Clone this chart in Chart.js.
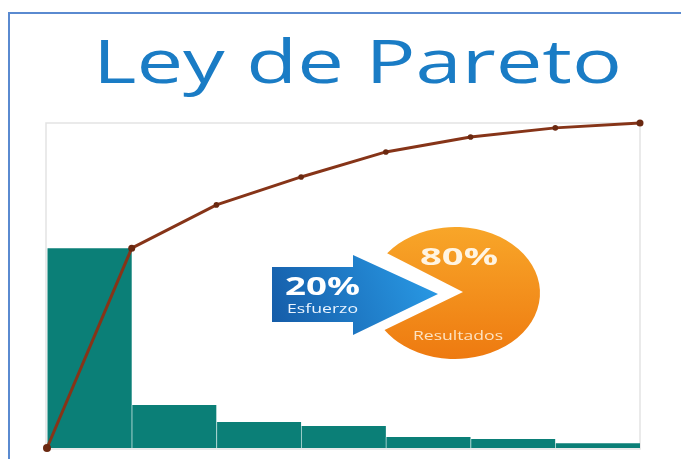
<!DOCTYPE html>
<html>
<head>
<meta charset="utf-8">
<script src="https://cdn.jsdelivr.net/npm/chart.js@4.4.1/dist/chart.umd.min.js"></script>
<style>
  html, body { margin: 0; padding: 0; background: #fff; }
  #wrap { position: relative; width: 681px; height: 459px; }
</style>
</head>
<body>
<div id="wrap"><canvas id="paretoChart" width="681" height="459"></canvas></div>
<script>
// datos (porcentajes)
var barPos = [0.5, 1.5, 2.5, 3.5, 4.5, 5.5, 6.5];
var barValues = [61.5, 13.2, 8.0, 6.8, 3.4, 2.8, 1.5];
var cumPos = [0, 1, 2, 3, 4, 5, 6, 7];
var cumValues = [0, 61.5, 74.8, 83.4, 91.1, 95.7, 98.5, 100];

var titleText = 'Ley de Pareto';
var effortPct = '20%';
var effortLabel = 'Esfuerzo';
var resultPct = '80%';
var resultLabel = 'Resultados';

// texto ajustado a un ancho (la imagen original esta estirada)
function fitText(ctx, text, x, y, w, font, color) {
  ctx.save();
  ctx.font = font;
  var m = ctx.measureText(text).width;
  ctx.translate(x, y);
  ctx.scale(w / m, 1);
  ctx.fillStyle = color;
  ctx.textBaseline = 'alphabetic';
  ctx.fillText(text, 0, 0);
  ctx.restore();
}

const frameAndTitle = {
  id: 'frameAndTitle',
  beforeDraw(chart) {
    const ctx = chart.ctx;
    const a = chart.chartArea;
    ctx.save();
    ctx.fillStyle = '#fff';
    ctx.fillRect(0, 0, chart.width, chart.height);

    // marco azul
    ctx.strokeStyle = '#5a8ad0';
    ctx.lineWidth = 2;
    ctx.beginPath();
    ctx.moveTo(9, chart.height);
    ctx.lineTo(9, 13);
    ctx.lineTo(chart.width, 13);
    ctx.stroke();

    fitText(ctx, titleText, 93, 83, 529, '60px "Open Sans"', '#1a7cc5');

    // borde del area del grafico
    ctx.strokeStyle = '#e3e3e3';
    ctx.lineWidth = 1.5;
    ctx.strokeRect(a.left - 1, a.top, a.right - a.left + 1, a.bottom - a.top + 1);
    ctx.restore();
  },
  beforeDatasetsDraw(chart) {
    const ctx = chart.ctx;
    ctx.save();

    // pacman naranja
    var cx = 455, cy = 293, rx = 85, ry = 66;
    var g1 = ctx.createLinearGradient(0, cy - ry, 0, cy + ry);
    g1.addColorStop(0, '#f8a629');
    g1.addColorStop(1, '#ee7a10');
    ctx.fillStyle = g1;
    ctx.beginPath();
    ctx.moveTo(463, 292);
    ctx.ellipse(cx, cy, rx, ry, 0, 217 * Math.PI / 180, 146 * Math.PI / 180, false);
    ctx.closePath();
    ctx.fill();

    // flecha azul
    var g2 = ctx.createLinearGradient(272, 322, 438, 255);
    g2.addColorStop(0, '#155ca8');
    g2.addColorStop(1, '#2a9de8');
    ctx.fillStyle = g2;
    ctx.beginPath();
    ctx.moveTo(272, 267);
    ctx.lineTo(353, 267);
    ctx.lineTo(353, 255);
    ctx.lineTo(438, 294);
    ctx.lineTo(353, 335);
    ctx.lineTo(353, 322);
    ctx.lineTo(272, 322);
    ctx.closePath();
    ctx.fill();

    fitText(ctx, effortPct, 285, 295, 75, 'bold 25px "Open Sans"', '#ffffff');
    fitText(ctx, effortLabel, 287, 313, 71, '12px "Open Sans"', '#eaf4ff');
    fitText(ctx, resultPct, 420, 265, 78, 'bold 24px "Open Sans"', '#fff4e2');
    fitText(ctx, resultLabel, 413, 340, 90, '12px "Open Sans"', '#fde3c2');
    ctx.restore();
  }
};

const ctx = document.getElementById('paretoChart');
const chart = new Chart(ctx, {
  type: 'bar',
  data: {
    datasets: [
      {
        type: 'line',
        data: cumPos.map((x, i) => ({ x: x, y: cumValues[i] })),
        borderColor: '#863418',
        borderWidth: 3,
        pointRadius: [4, 3.5, 2.8, 2.8, 2.8, 2.8, 2.8, 3.5],
        pointBackgroundColor: '#6a2810',
        pointBorderWidth: 0,
        tension: 0,
        clip: false,
        order: 0
      },
      {
        type: 'bar',
        data: barPos.map((x, i) => ({ x: x, y: barValues[i] })),
        backgroundColor: '#0b7f77',
        borderColor: 'rgba(150, 205, 200, 0.6)',
        borderWidth: { left: 1, right: 0, top: 0, bottom: 0 },
        barPercentage: 1,
        categoryPercentage: 1,
        order: 1
      }
    ]
  },
  options: {
    responsive: false,
    animation: false,
    devicePixelRatio: 1,
    layout: { padding: { left: 47, top: 123, right: 41, bottom: 11 } },
    plugins: {
      legend: { display: false },
      title: { display: false },
      tooltip: { enabled: false }
    },
    scales: {
      x: { type: 'linear', min: 0, max: 7, offset: false, display: false },
      y: { type: 'linear', min: 0, max: 100, display: false }
    }
  },
  plugins: [frameAndTitle]
});
</script>
</body>
</html>
